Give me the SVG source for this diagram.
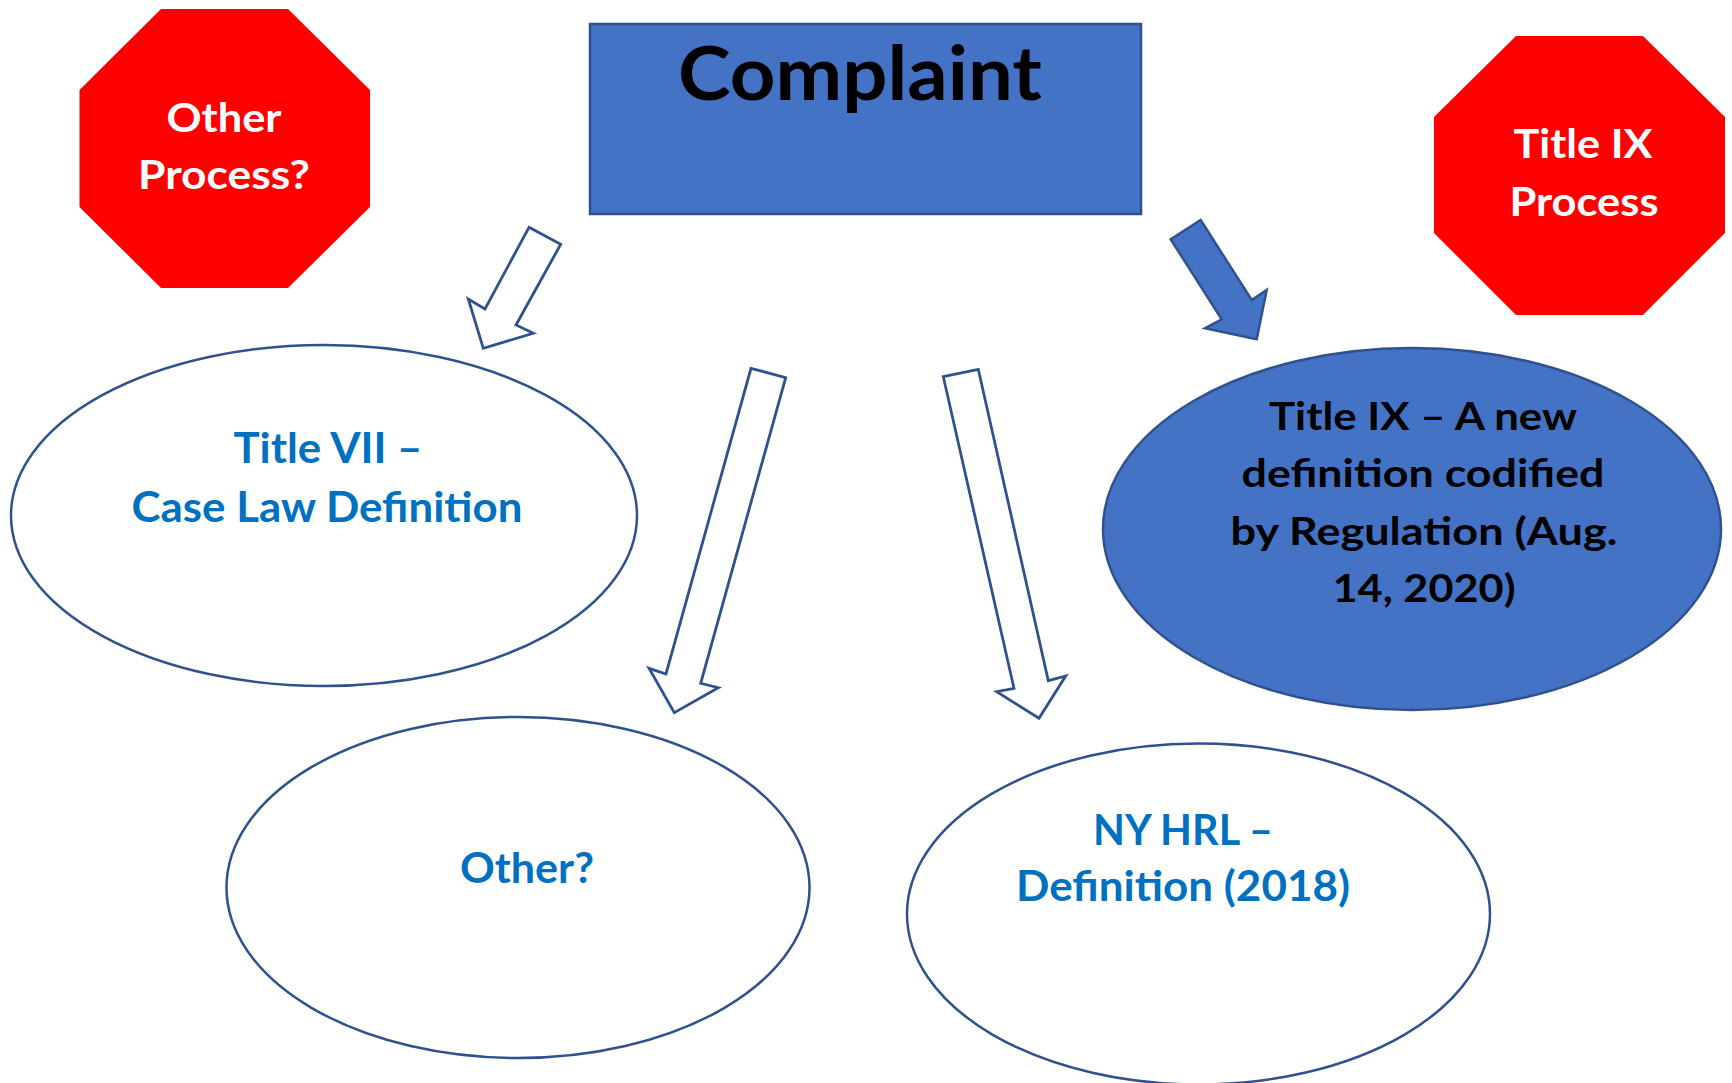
<svg xmlns="http://www.w3.org/2000/svg" width="1732" height="1083" viewBox="0 0 1732 1083">
<style>
.t{font-family:Lato,"Open Sans","Liberation Sans",sans-serif;font-weight:bold;text-anchor:middle}
.w{fill:#FFFFFF}
.b{fill:#0070C0}
.k{fill:#000000}
.stop{fill:#FF0000}
.oval{fill:#FFFFFF;stroke:#2F528F;stroke-width:2.5}
.arrow{fill:#FFFFFF;stroke:#2F528F;stroke-width:2.8;stroke-linejoin:miter}
.arrowf{fill:#4472C4;stroke:#2F528F;stroke-width:2.5;stroke-linejoin:miter}
</style>
<rect width="1732" height="1083" fill="#FFFFFF"/>
<g id="other-process">
<polygon class="stop" points="161,9 288,9 370,90 370,207 288,288 161,288 79.5,207 79.5,90"/>
<text class="t w" x="224" y="132" font-size="40" textLength="115" lengthAdjust="spacingAndGlyphs">Other</text>
<text class="t w" x="224" y="189" font-size="40" textLength="172" lengthAdjust="spacingAndGlyphs">Process?</text>
</g>
<g id="title-ix-process">
<polygon class="stop" points="1516,36 1643,36 1725,117 1725,233 1643,315 1516,315 1434,233 1434,117"/>
<text class="t w" x="1583" y="158" font-size="40" textLength="139" lengthAdjust="spacingAndGlyphs">Title IX</text>
<text class="t w" x="1584" y="216" font-size="40" textLength="149" lengthAdjust="spacingAndGlyphs">Process</text>
</g>
<g id="complaint">
<rect x="590" y="24" width="551" height="190" fill="#4472C4" stroke="#2F528F" stroke-width="2.5"/>
<text class="t k" x="860" y="100" font-size="75" textLength="364" lengthAdjust="spacingAndGlyphs">Complaint</text>
</g>
<g id="title-vii">
<ellipse class="oval" cx="324" cy="515.5" rx="313" ry="170.5"/>
<text class="t b" x="328" y="463" font-size="42" textLength="189" lengthAdjust="spacingAndGlyphs">Title VII –</text>
<text class="t b" x="327" y="522" font-size="42" textLength="391" lengthAdjust="spacingAndGlyphs">Case Law Definition</text>
</g>
<g id="other">
<ellipse class="oval" cx="518" cy="887.5" rx="291.5" ry="170.5"/>
<text class="t b" x="527" y="883" font-size="42" textLength="134" lengthAdjust="spacingAndGlyphs">Other?</text>
</g>
<g id="ny-hrl">
<ellipse class="oval" cx="1198.5" cy="914" rx="291.5" ry="170.5"/>
<text class="t b" x="1183" y="845" font-size="42" textLength="180" lengthAdjust="spacingAndGlyphs">NY HRL –</text>
<text class="t b" x="1183" y="901" font-size="42" textLength="334" lengthAdjust="spacingAndGlyphs">Definition (2018)</text>
</g>
<g id="title-ix">
<ellipse cx="1412" cy="529" rx="309" ry="181" fill="#4472C4" stroke="#2F528F" stroke-width="2.5"/>
<text class="t k" x="1423" y="430" font-size="39" textLength="308" lengthAdjust="spacingAndGlyphs">Title IX – A new</text>
<text class="t k" x="1423" y="487" font-size="39" textLength="363" lengthAdjust="spacingAndGlyphs">definition codified</text>
<text class="t k" x="1424" y="545" font-size="39" textLength="387" lengthAdjust="spacingAndGlyphs">by Regulation (Aug.</text>
<text class="t k" x="1424" y="602" font-size="39" textLength="183" lengthAdjust="spacingAndGlyphs">14, 2020)</text>
</g>
<g id="connectors">
<polygon class="arrow" points="529,227.3 560.7,244.3 516,325 533.3,333.3 483.3,348.3 468.3,299 485,309"/>
<polygon class="arrow" points="751,368.3 785.7,377.7 700.7,683.3 718.3,687.7 674.3,712.7 649,668.3 666,674"/>
<polygon class="arrow" points="943.3,376.7 978.3,369.3 1048.3,680.7 1065.7,676 1039,718.3 996.7,691.7 1014,688.3"/>
<polygon class="arrowf" points="1170.7,239.3 1200.7,220 1251.7,300 1266.7,290 1256.7,339.3 1205,328.3 1221.7,319.3"/>
</g>
</svg>
